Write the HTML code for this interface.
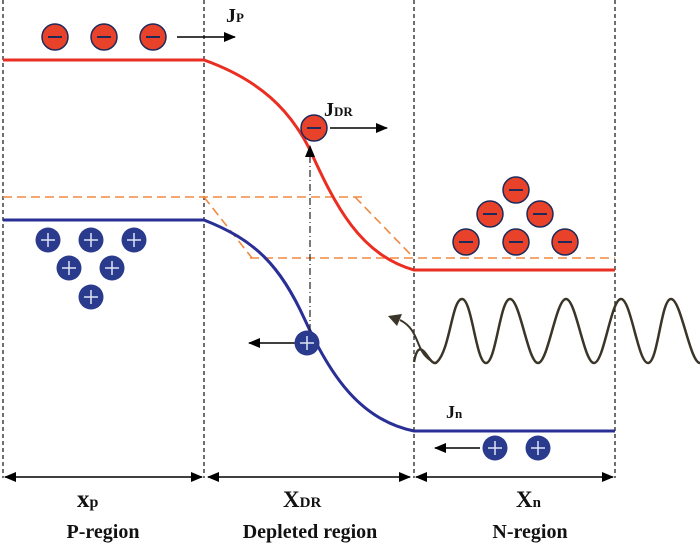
<!DOCTYPE html>
<html><head><style>body{margin:0;background:#fff}svg{display:block}</style></head><body>
<svg width="700" height="544" viewBox="0 0 700 544" xmlns="http://www.w3.org/2000/svg" font-family="Liberation Serif, serif" font-weight="bold">
<defs>
<marker id="a" markerWidth="12" markerHeight="10" refX="11" refY="5" orient="auto" markerUnits="userSpaceOnUse"><path d="M0,0L12,5L0,10z" fill="#000"/></marker>
<marker id="b" markerWidth="12" markerHeight="10" refX="1" refY="5" orient="auto" markerUnits="userSpaceOnUse"><path d="M12,0L0,5L12,10z" fill="#000"/></marker>
<g id="e"><circle r="13" fill="#e8432a" stroke="#1d2a5a" stroke-width="1.5"/><line x1="-7" x2="7" stroke="#1d2a5a" stroke-width="2"/></g>
<g id="h"><circle r="12.5" fill="#2a3a8c"/><path d="M-7,0H7M0,-7V7" stroke="#dfe4f5" stroke-width="1.5"/></g>
</defs>
<g stroke="#222" stroke-width="1.3" stroke-dasharray="4,3">
<line x1="3" y1="0" x2="3" y2="478"/><line x1="204" y1="0" x2="204" y2="478"/><line x1="414" y1="0" x2="414" y2="478"/><line x1="615" y1="0" x2="615" y2="478"/>
</g>
<g stroke="#f08a40" stroke-width="1.6" stroke-dasharray="9,5" fill="none">
<path d="M3,197H367"/><path d="M204,197L252,258"/><path d="M355,197L413,257"/><path d="M250,258H615"/>
</g>
<path d="M3,60H204C260,80 290,110 310,150 C335,205 360,255 414,270H615" stroke="#ea2e22" stroke-width="3" fill="none"/>
<path d="M3,220H204C255,240 280,265 305,320 C330,375 360,420 414,431H615" stroke="#2a2f96" stroke-width="3" fill="none"/>
<line x1="310" y1="345" x2="310" y2="146" stroke="#222" stroke-width="1.2" stroke-dasharray="7,3,1,3" marker-end="url(#a)"/>
<path d="M414,362 C420,330 430,370 437,362 C450,350 452,299 462,299 S 476,363 486,363 S 500,299 510,299 S 528,363 538,363 S 556,299 566,299 S 584,363 594,363 S 611,299 621,299 S 638,363 648,363 S 661,299 671,299 S 690,363 700,363" stroke="#3a3528" stroke-width="2.5" fill="none"/>
<path d="M430,360 C415,350 420,330 400,320" stroke="#3a3528" stroke-width="2" fill="none"/>
<path d="M388,316L402,314L397,326z" fill="#3a3528"/>
<g stroke="#000" stroke-width="1.6">
<line x1="177" y1="37" x2="235" y2="37" marker-end="url(#a)"/>
<line x1="330" y1="128" x2="387" y2="128" marker-end="url(#a)"/>
<line x1="295" y1="343" x2="249" y2="343" marker-end="url(#a)"/>
<line x1="480" y1="448" x2="435" y2="448" marker-end="url(#a)"/>
<line x1="5" y1="477" x2="202" y2="477" marker-start="url(#b)" marker-end="url(#a)"/>
<line x1="208" y1="477" x2="410" y2="477" marker-start="url(#b)" marker-end="url(#a)"/>
<line x1="416" y1="477" x2="613" y2="477" marker-start="url(#b)" marker-end="url(#a)"/>
</g>
<use href="#e" x="55" y="37"/><use href="#e" x="104" y="37"/><use href="#e" x="153" y="37"/>
<use href="#e" x="314" y="128"/>
<use href="#e" x="516" y="190"/><use href="#e" x="490" y="214"/><use href="#e" x="540" y="214"/>
<use href="#e" x="466" y="242"/><use href="#e" x="516" y="242"/><use href="#e" x="565" y="242"/>
<use href="#h" x="48" y="240"/><use href="#h" x="91" y="240"/><use href="#h" x="134" y="240"/>
<use href="#h" x="69" y="268"/><use href="#h" x="112" y="268"/><use href="#h" x="91" y="297"/>
<use href="#h" x="307" y="343"/><use href="#h" x="495" y="448"/><use href="#h" x="538" y="448"/>
<g fill="#111">
<text x="226" y="22" font-size="20">J<tspan font-size="13">P</tspan></text>
<text x="324" y="116" font-size="20">J<tspan font-size="13">DR</tspan></text>
<text x="446" y="418" font-size="18">J<tspan font-size="13">n</tspan></text>
<text x="77" y="507" font-size="25">x<tspan font-size="16">p</tspan></text>
<text x="283" y="507" font-size="23">X<tspan font-size="15">DR</tspan></text>
<text x="516" y="507" font-size="23">X<tspan font-size="15">n</tspan></text>
<text x="103" y="538" font-size="20" text-anchor="middle">P-region</text>
<text x="310" y="538" font-size="20" text-anchor="middle">Depleted region</text>
<text x="530" y="538" font-size="20" text-anchor="middle">N-region</text>
</g>
</svg>
</body></html>
